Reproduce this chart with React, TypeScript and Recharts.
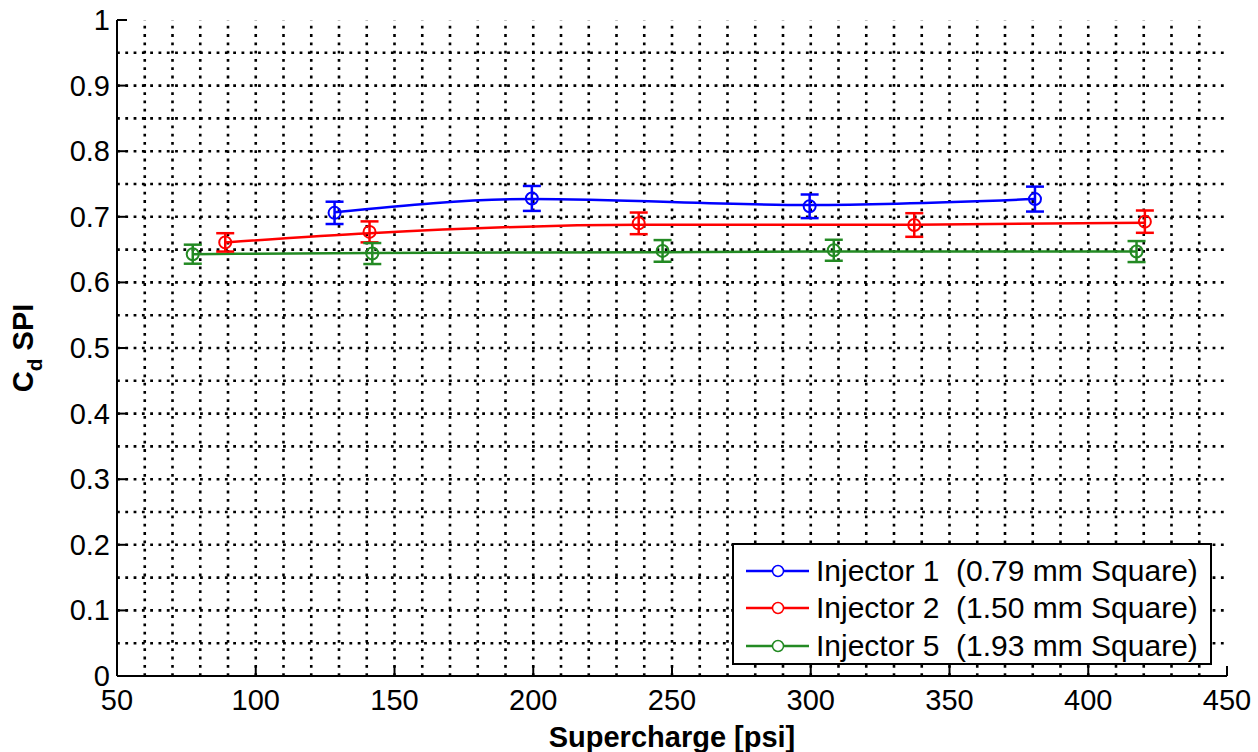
import React from "react";
import {
  ComposedChart,
  Line,
  Scatter,
  ErrorBar,
  XAxis,
  YAxis,
  ReferenceLine,
} from "recharts";

// supercharge [psi], measured Cd, error half-width, fitted curve
const inj1Psi = [128.4, 199.5, 299.6, 380.8];
const inj1Cd = [0.706, 0.728, 0.716, 0.727];
const inj1Err = [0.017, 0.019, 0.018, 0.019];
const inj1Fit = [0.707, 0.727, 0.718, 0.727];

const inj2Psi = [89, 141, 238, 337.3, 420.4];
const inj2Cd = [0.661, 0.677, 0.69, 0.6875, 0.6926];
const inj2Err = [0.014, 0.016, 0.0165, 0.018, 0.017];
const inj2Fit = [0.661, 0.675, 0.688, 0.688, 0.691];

const inj5Psi = [77.3, 142, 246.6, 308.3, 417.4];
const inj5Cd = [0.643, 0.644, 0.648, 0.649, 0.647];
const inj5Err = [0.0145, 0.016, 0.0165, 0.016, 0.016];
const inj5Fit = [0.643, 0.645, 0.646, 0.647, 0.647];

const xTicks = [50, 100, 150, 200, 250, 300, 350, 400, 450];
const yTicks = [0, 0.1, 0.2, 0.3, 0.4, 0.5, 0.6, 0.7, 0.8, 0.9, 1];
const xGrid = [
  60, 70, 80, 90, 100, 110, 120, 130, 140, 150, 160, 170, 180, 190, 200, 210,
  220, 230, 240, 250, 260, 270, 280, 290, 300, 310, 320, 330, 340, 350, 360,
  370, 380, 390, 400, 410, 420, 430, 440,
];
const yGrid = [
  0.05, 0.1, 0.15, 0.2, 0.25, 0.3, 0.35, 0.4, 0.45, 0.5, 0.55, 0.6, 0.65, 0.7,
  0.75, 0.8, 0.85, 0.9, 0.95,
];

const BLUE = "#0000ff";
const RED = "#ff0000";
const GREEN = "#238a23";
const FONT = "Arial, 'Liberation Sans', sans-serif";

const series = [
  { name: "Injector 1  (0.79 mm Square)", color: BLUE, psi: inj1Psi, cd: inj1Cd, err: inj1Err, fit: inj1Fit },
  { name: "Injector 2  (1.50 mm Square)", color: RED, psi: inj2Psi, cd: inj2Cd, err: inj2Err, fit: inj2Fit },
  { name: "Injector 5  (1.93 mm Square)", color: GREEN, psi: inj5Psi, cd: inj5Cd, err: inj5Err, fit: inj5Fit },
].map((s) => ({
  ...s,
  points: s.psi.map((x, i) => ({ x, y: s.cd[i], err: s.err[i] })),
  curve: s.psi.map((x, i) => ({ x, fit: s.fit[i] })),
}));

const BottomTick = ({ x, y, payload }: any) => (
  <g>
    <line x1={x} x2={x} y1={y} y2={y - 10} stroke="#000" strokeWidth={2} />
    <text x={x} y={y + 34} textAnchor="middle" fontSize={29} fill="#000">
      {payload.value}
    </text>
  </g>
);
const TopTick = ({ x, y }: any) => (
  <line x1={x} x2={x} y1={y} y2={y + 10} stroke="#000" strokeWidth={2} />
);
const LeftTick = ({ x, y, payload }: any) => (
  <g>
    <line x1={x} x2={x + 10} y1={y} y2={y} stroke="#000" strokeWidth={2} />
    <text x={x - 7} y={y + 10} textAnchor="end" fontSize={29} fill="#000">
      {payload.value}
    </text>
  </g>
);
const RightTick = ({ x, y }: any) => (
  <line x1={x} x2={x - 10} y1={y} y2={y} stroke="#000" strokeWidth={2} />
);

const YLabel = ({ viewBox }: any) => {
  const cx = viewBox.x + 33;
  const cy = viewBox.y + viewBox.height / 2;
  return (
    <text
      x={cx}
      y={cy}
      transform={`rotate(-90, ${cx}, ${cy})`}
      textAnchor="middle"
      fontSize={29}
      fontWeight="bold"
      fill="#000"
    >
      <tspan>C</tspan>
      <tspan dy={9} fontSize={21}>d</tspan>
      <tspan dy={-9}> SPI</tspan>
    </text>
  );
};

const XLabel = ({ viewBox }: any) => (
  <text
    x={viewBox.x + viewBox.width / 2}
    y={747}
    textAnchor="middle"
    fontSize={29}
    fontWeight="bold"
    fill="#000"
  >
    Supercharge [psi]
  </text>
);

function LegendBox() {
  return (
    <div
      style={{
        position: "absolute",
        left: 732,
        top: 543,
        width: 480,
        height: 122,
        border: "2px solid #000",
        background: "#fff",
        fontFamily: FONT,
        fontSize: 30,
        paddingTop: 7,
        boxSizing: "border-box",
      }}
    >
      {series.map((s) => (
        <div
          key={s.name}
          style={{ display: "flex", alignItems: "center", height: 37.5 }}
        >
          <svg width={82} height={20} style={{ flex: "none" }}>
            <line x1={12} x2={75} y1={10} y2={10} stroke={s.color} strokeWidth={2.5} />
            <circle cx={44} cy={10} r={5.5} fill="#fff" stroke={s.color} strokeWidth={1.5} />
          </svg>
          <span style={{ whiteSpace: "pre", color: "#000" }}>{s.name}</span>
        </div>
      ))}
    </div>
  );
}

export default function App() {
  return (
    <div style={{ position: "absolute", left: 0, top: 0, width: 1258, height: 752, background: "#fff" }}>
      <ComposedChart
        width={1258}
        height={752}
        margin={{ top: 20, right: 31, bottom: 0, left: 0 }}
        style={{ fontFamily: FONT }}
      >
        <XAxis
          xAxisId="main"
          type="number"
          dataKey="x"
          domain={[50, 450]}
          ticks={xTicks}
          interval={0}
          height={76}
          tickSize={0}
          tickMargin={0}
          tick={<BottomTick />}
          axisLine={{ stroke: "#000", strokeWidth: 2 }}
          allowDataOverflow
          label={<XLabel />}
        />
        <XAxis
          xAxisId="top"
          orientation="top"
          type="number"
          domain={[50, 450]}
          ticks={xTicks}
          interval={0}
          height={0}
          tickSize={0}
          tickMargin={0}
          tick={<TopTick />}
          axisLine={{ stroke: "#000", strokeWidth: 2 }}
          allowDataOverflow
        />
        <YAxis
          yAxisId="main"
          type="number"
          domain={[0, 1]}
          ticks={yTicks}
          interval={0}
          width={117}
          tickSize={0}
          tickMargin={0}
          tick={<LeftTick />}
          axisLine={{ stroke: "#000", strokeWidth: 2 }}
          allowDataOverflow
          label={<YLabel />}
        />
        <YAxis
          yAxisId="right"
          orientation="right"
          type="number"
          domain={[0, 1]}
          ticks={yTicks}
          interval={0}
          width={0}
          tickSize={0}
          tickMargin={0}
          tick={<RightTick />}
          axisLine={{ stroke: "#000", strokeWidth: 2 }}
          allowDataOverflow
        />

        {xGrid.map((v) => (
          <ReferenceLine
            key={`gx${v}`}
            xAxisId="main"
            yAxisId="main"
            x={v}
            stroke="#000"
            strokeWidth={2.6}
            strokeDasharray="2.8 5.5"
          />
        ))}
        {yGrid.map((v) => (
          <ReferenceLine
            key={`gy${v}`}
            xAxisId="main"
            yAxisId="main"
            y={v}
            stroke="#000"
            strokeWidth={2.6}
            strokeDasharray="2.8 5.5"
          />
        ))}

        {series.map((s) => (
          <Line
            key={`l${s.name}`}
            xAxisId="main"
            yAxisId="main"
            data={s.curve}
            dataKey="fit"
            type="monotone"
            stroke={s.color}
            strokeWidth={2.5}
            dot={false}
            activeDot={false}
            isAnimationActive={false}
          />
        ))}
        {series.map((s) => (
          <Scatter
            key={`s${s.name}`}
            xAxisId="main"
            yAxisId="main"
            data={s.points}
            dataKey="y"
            isAnimationActive={false}
            shape={(p: any) => (
              <circle cx={p.cx} cy={p.cy} r={6} fill="none" stroke={s.color} strokeWidth={2} />
            )}
          >
            <ErrorBar
              dataKey="err"
              direction="y"
              width={9}
              stroke={s.color}
              strokeWidth={2.5}
              isAnimationActive={false}
            />
          </Scatter>
        ))}
      </ComposedChart>
      <LegendBox />
    </div>
  );
}
